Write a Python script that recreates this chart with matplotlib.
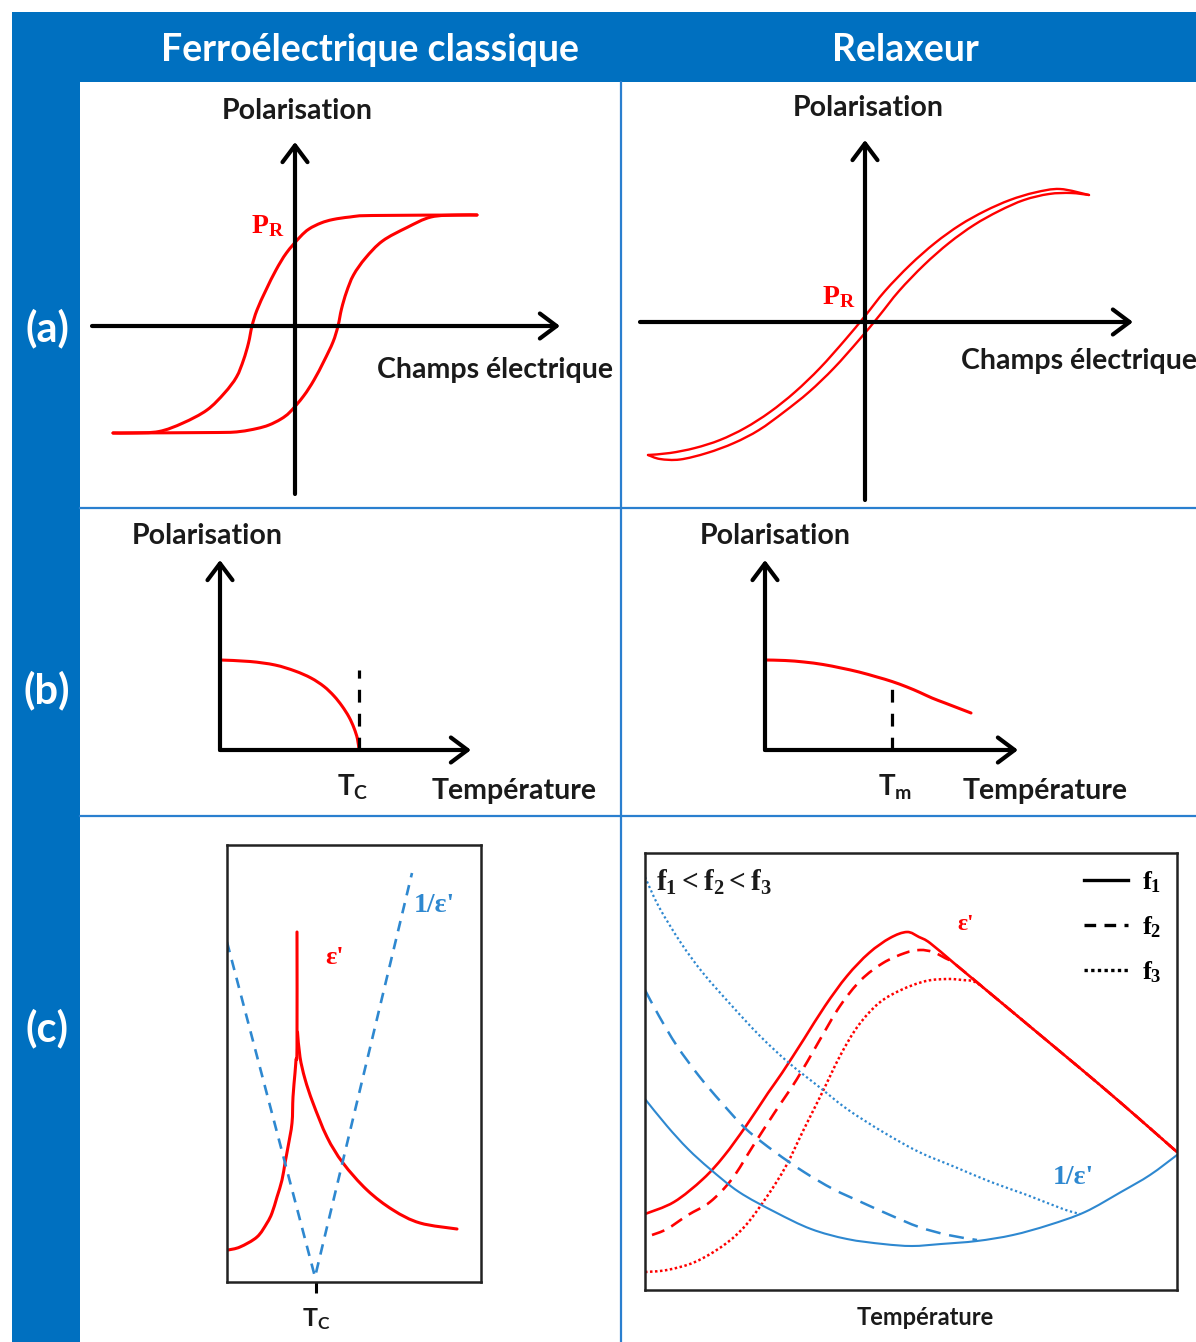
import matplotlib
matplotlib.use("Agg")
import matplotlib.pyplot as plt
from matplotlib.patches import Rectangle, PathPatch
from matplotlib.path import Path
from matplotlib.lines import Line2D

plt.rcParams["mathtext.fontset"] = "custom"
plt.rcParams["mathtext.rm"] = "Liberation Serif:bold"
plt.rcParams["mathtext.bf"] = "Liberation Serif:bold"
plt.rcParams["mathtext.it"] = "Liberation Serif:bold"
plt.rcParams["mathtext.sf"] = "Lato:bold"

# ---------------- data ----------------
# (a) ferroelectric hysteresis: field E vs polarisation P (offsets from origin)
fe_up_E = [182, 77, 55, 38, 26, 14, 5, -8.6, -19, -29, -38, -43, -46.5, -51.5, -58.5, -70.5, -88, -112, -136, -163, -182]
fe_up_P = [111, 110.5, 109, 106.5, 103, 97, 89, 73, 56, 36, 16, 0, -17, -34, -51, -67, -84, -97, -105.5, -107, -107]
fe_dn_E = [-182, -77, -55, -38, -26, -14, -5, 8.6, 19, 29, 38, 43, 46.5, 51.5, 58.5, 70.5, 87.5, 112, 136, 163, 182]
fe_dn_P = [-107, -106.5, -105.5, -102.5, -99, -93, -86, -70, -54, -35, -16, 0, 17, 34, 51, 68, 85, 98.5, 109, 111, 111]
# (a) relaxor slim loop
rl_up_E = [-217, -195, -170, -145, -120, -95, -70, -45, -20, 0, 20, 45, 70, 95, 120, 145, 170, 195, 224]
rl_up_P = [-133, -131, -126, -118, -106, -90, -70, -46, -18, 6, 31, 57, 79, 97, 111, 122, 129.5, 133, 127]
rl_dn_E = [-217, -205, -185, -158, -131, -106, -81, -56, -31, -6, 14, 34, 59, 84, 109, 134, 159, 184, 206, 224]
rl_dn_P = [-133, -137, -137.5, -131, -121, -108, -90, -70, -46, -18, 6, 31, 57, 79, 97, 111, 122, 128, 129, 127]

# (b) polarisation vs temperature
fe_T = [0, 30, 55, 75, 91, 104, 114, 122, 129, 134, 137.5, 139]
fe_Ps = [90, 88.5, 85, 79, 72, 63.5, 54, 44, 33, 22, 11, 0]
fe_Tc = 139
fe_Tc_top = 80
rl_T = [0, 20, 39, 58, 76, 94, 112, 127, 142, 155, 167, 180, 193, 206]
rl_Ps = [90, 89.5, 88, 85.5, 82, 78, 73, 68.5, 63, 57.5, 52, 47, 42, 37]
rl_Tm = 127
rl_Tm_top = 67

# (c) left: permittivity (two branches around Tc) and inverse permittivity
eps_lo_T = [1, 13, 30, 40, 45, 50, 55, 58, 61, 65, 66, 68, 69, 70, 70]
eps_lo = [32, 35, 45, 59, 69, 85, 102, 119, 135, 159, 185, 209, 222, 235, 350]
eps_hi_T = [70.5, 73, 78, 86, 100, 116, 140, 166, 193, 230]
eps_hi = [250, 225, 203, 179, 145, 119, 92, 72, 59, 53]
inv_T = [0, 88, 185]
inv_val = [340, 5, 409]
Tc_c = 89

# (c) right: relaxor, three frequencies f1 < f2 < f3
f1_T = [0, 29, 58, 79, 101, 123, 137, 159, 180, 202, 224, 245, 262, 274, 285, 310, 346, 382, 418, 455, 491, 532]
f1_eps = [76, 88, 111, 134, 164, 197, 217, 251, 284, 314, 337, 352, 358, 353, 347, 326, 296, 266, 236, 205, 174, 138]
f2_T = [7, 22, 43, 65, 87, 108, 130, 152, 173, 195, 216, 238, 260, 275, 288, 300, 310, 346, 382, 418, 455, 491, 532]
f2_eps = [55, 61, 75, 88, 111, 144, 178, 211, 247, 284, 310, 327, 337, 340, 338, 332, 326, 296, 266, 236, 205, 174, 138]
f3_T = [0, 22, 50, 79, 101, 123, 141, 159, 177, 195, 213, 234, 256, 281, 303, 317, 330, 346, 382, 418, 455, 491, 532]
f3_eps = [18, 20, 28, 45, 65, 95, 124, 161, 197, 234, 264, 287, 300, 309, 311, 310, 308, 296, 266, 236, 205, 174, 138]
f1_Ti = [0, 22, 43, 65, 94, 130, 166, 202, 238, 267, 296, 332, 368, 404, 440, 476, 505, 532]
f1_inv = [191, 164, 141, 121, 98, 78, 61, 51, 46, 44, 46, 49, 55, 65, 78, 98, 115, 135]
f2_Ti = [0, 14, 32, 54, 76, 101, 130, 159, 188, 216, 245, 274, 303, 332]
f2_inv = [300, 274, 244, 214, 188, 161, 138, 118, 101, 88, 75, 63, 55, 50]
f3_Ti = [0, 14, 36, 58, 87, 115, 144, 173, 202, 238, 274, 310, 346, 382, 418, 435]
f3_inv = [413, 383, 347, 317, 284, 254, 227, 204, 181, 158, 138, 123, 108, 95, 81, 76]

freq_labels = [r"$\mathbf{f_1}$", r"$\mathbf{f_2}$", r"$\mathbf{f_3}$"]

# ---------------- styles ----------------
W, H = 1196, 1342
BLUE = "#0070C0"
SEP = "#2A7FCF"
RED = "#FF0000"
LBLUE = "#2E88D0"
SANS = "Lato"
SERIF = "Liberation Serif"
DARK = "#1a1a1a"

fig = plt.figure(figsize=(W / 100, H / 100), dpi=100)
fig.patch.set_facecolor("white")

bg = fig.add_axes([0, 0, 1, 1])
bg.set_xlim(0, W)
bg.set_ylim(H, 0)
bg.axis("off")
bg.add_patch(Rectangle((12, 12), W - 12, 70, color=BLUE, lw=0))
bg.add_patch(Rectangle((12, 12), 68, H - 12, color=BLUE, lw=0))
bg.plot([621, 621], [82, H], color=SEP, lw=1.6)
bg.plot([80, W], [508, 508], color=SEP, lw=1.6)
bg.plot([80, W], [816, 816], color=SEP, lw=1.6)

hdr = dict(color="white", fontsize=27, fontweight="bold", family=SANS, ha="center", va="center")
bg.text(370, 50, "Ferroélectrique classique", **hdr)
bg.text(905, 50, "Relaxeur", **hdr)
row = dict(color="white", fontsize=30, fontweight="bold", family=SANS, ha="center", va="center")
bg.text(47, 328, "(a)", **row)
bg.text(47, 690, "(b)", **row)
bg.text(47, 1028, "(c)", **row)


def cell_ax(x0, y0, x1, y1, ox, oy):
    ax = fig.add_axes([x0 / W, 1 - y1 / H, (x1 - x0) / W, (y1 - y0) / H])
    ax.set_xlim(x0 - ox, x1 - ox)
    ax.set_ylim(oy - y1, oy - y0)
    ax.axis("off")
    ax.patch.set_alpha(0)
    return ax


def arrow(ax, start, end):
    ax.annotate("", xy=end, xytext=start, annotation_clip=False,
                arrowprops=dict(arrowstyle="->,head_length=0.6,head_width=0.45",
                                lw=3.0, color="black", shrinkA=0, shrinkB=0,
                                mutation_scale=20))


def smooth(ax, xs, ys, cap="round", **kw):
    """Draw a smoothed (Catmull-Rom / cubic Bezier) line through the data points."""
    pts = list(zip(xs, ys))
    verts = [pts[0]]
    codes = [Path.MOVETO]
    n = len(pts)
    for i in range(n - 1):
        p0 = pts[i - 1] if i > 0 else pts[i]
        p1 = pts[i]
        p2 = pts[i + 1]
        p3 = pts[i + 2] if i + 2 < n else pts[i + 1]
        c1 = (p1[0] + (p2[0] - p0[0]) / 6.0, p1[1] + (p2[1] - p0[1]) / 6.0)
        c2 = (p2[0] - (p3[0] - p1[0]) / 6.0, p2[1] - (p3[1] - p1[1]) / 6.0)
        verts += [c1, c2, p2]
        codes += [Path.CURVE4] * 3
    patch = PathPatch(Path(verts, codes), fill=False, capstyle=cap, joinstyle="round", **kw)
    ax.add_patch(patch)
    return patch


lab = dict(fontsize=20.5, fontweight="bold", family=SANS, color=DARK)

# ---- (a) left
axA1 = cell_ax(82, 84, 620, 506, 295, 326)
arrow(axA1, (-203, 0), (265, 0))
arrow(axA1, (0, -168), (0, 184))
smooth(axA1, fe_up_E, fe_up_P, edgecolor=RED, lw=2.2)
smooth(axA1, fe_dn_E, fe_dn_P, edgecolor=RED, lw=2.2)
bg.text(297, 111, "Polarisation", ha="center", va="center", **lab)
bg.text(377, 370, "Champs électrique", ha="left", va="center", **lab)
bg.text(251, 225, r"$\mathbf{P_R}$", color=RED, fontsize=20, ha="left", va="center")

# ---- (a) right
axA2 = cell_ax(622, 84, 1196, 506, 865, 322)
arrow(axA2, (-225, 0), (268, 0))
arrow(axA2, (0, -178), (0, 182))
smooth(axA2, rl_up_E, rl_up_P, edgecolor=RED, lw=1.7)
smooth(axA2, rl_dn_E, rl_dn_P, edgecolor=RED, lw=1.7)
bg.text(868, 108, "Polarisation", ha="center", va="center", **lab)
bg.text(961, 361, "Champs électrique", ha="left", va="center", **lab)
bg.text(822, 296, r"$\mathbf{P_R}$", color=RED, fontsize=20, ha="left", va="center")

# ---- (b) left
axB1 = cell_ax(82, 510, 620, 814, 220, 750)
arrow(axB1, (0, 0), (251, 0))
arrow(axB1, (0, 0), (0, 190))
smooth(axB1, fe_T, fe_Ps, edgecolor=RED, lw=2.2)
axB1.plot([fe_Tc, fe_Tc], [0, fe_Tc_top], color="black", lw=2.3, ls=(0, (4, 3.5)))
bg.text(207, 536, "Polarisation", ha="center", va="center", **lab)
bg.text(353, 787, r"$\mathsf{T_C}$", ha="center", va="center", fontsize=20, color=DARK)
bg.text(432, 791, "Température", ha="left", va="center", **lab)

# ---- (b) right
axB2 = cell_ax(622, 510, 1196, 814, 765, 750)
arrow(axB2, (0, 0), (253, 0))
arrow(axB2, (0, 0), (0, 190))
smooth(axB2, rl_T, rl_Ps, edgecolor=RED, lw=2.2)
axB2.plot([rl_Tm, rl_Tm], [0, rl_Tm_top], color="black", lw=2.3, ls=(0, (4, 3.5)))
bg.text(775, 536, "Polarisation", ha="center", va="center", **lab)
bg.text(895, 787, r"$\mathsf{T_m}$", ha="center", va="center", fontsize=20, color=DARK)
bg.text(963, 791, "Température", ha="left", va="center", **lab)

# ---- (c) left
x0, y0, x1, y1 = 227, 845, 481, 1282
axC1 = fig.add_axes([x0 / W, 1 - y1 / H, (x1 - x0) / W, (y1 - y0) / H])
axC1.set_xlim(0, x1 - x0)
axC1.set_ylim(0, y1 - y0)
smooth(axC1, eps_lo_T, eps_lo, edgecolor=RED, lw=2.2)
smooth(axC1, eps_hi_T, eps_hi, edgecolor=RED, lw=2.2)
axC1.plot(inv_T, inv_val, color=LBLUE, lw=1.9, ls=(0, (4, 3)))
axC1.set_yticks([])
axC1.set_xticks([Tc_c])
axC1.set_xticklabels([r"$\mathsf{T_C}$"], fontsize=18, color=DARK)
axC1.tick_params(axis="x", length=8, width=2.2, pad=9)
for s in axC1.spines.values():
    s.set_linewidth(1.8)
    s.set_color("#222222")
axC1.text(108, 325, "ε'", color=RED, fontsize=19, fontweight="bold", family=SERIF, ha="center", va="center")
axC1.text(187, 377, "1/ε'", color=LBLUE, fontsize=20, fontweight="bold", family=SERIF, ha="left", va="center")

# ---- (c) right
x0, y0, x1, y1 = 645, 853, 1177, 1290
axC2 = fig.add_axes([x0 / W, 1 - y1 / H, (x1 - x0) / W, (y1 - y0) / H])
axC2.set_xlim(0, x1 - x0)
axC2.set_ylim(0, y1 - y0)
smooth(axC2, f1_T, f1_eps, edgecolor=RED, lw=1.9)
smooth(axC2, f2_T, f2_eps, cap="butt", edgecolor=RED, lw=1.9, ls=(0, (5, 3)))
smooth(axC2, f3_T, f3_eps, cap="butt", edgecolor=RED, lw=1.8, ls=(0, (1, 1)))
smooth(axC2, f1_Ti, f1_inv, edgecolor=LBLUE, lw=1.5)
smooth(axC2, f2_Ti, f2_inv, cap="butt", edgecolor=LBLUE, lw=1.8, ls=(0, (6, 3.5)))
smooth(axC2, f3_Ti, f3_inv, cap="butt", edgecolor=LBLUE, lw=1.6, ls=(0, (1, 1.2)))
for p in axC2.patches:
    p.set_clip_path(axC2.patch)
axC2.set_xticks([])
axC2.set_yticks([])
for s in axC2.spines.values():
    s.set_linewidth(1.8)
    s.set_color("#222222")
axC2.set_xlabel("Température", fontsize=17, fontweight="bold", family=SANS, color=DARK)
axC2.xaxis.set_label_coords(0.526, -0.064)
axC2.xaxis.label.set_va("center")
axC2.text(11, 408, r"$\mathbf{f_1 < f_2 < f_3}$", fontsize=21, color=DARK, ha="left", va="center")
axC2.text(321, 365, "ε'", color=RED, fontsize=17, fontweight="bold", family=SERIF, ha="center", va="center")
axC2.text(428, 113, "1/ε'", color=LBLUE, fontsize=20, fontweight="bold", family=SERIF, ha="center", va="center")
handles = [Line2D([], [], color="black", lw=2.4),
           Line2D([], [], color="black", lw=2.4, ls=(0, (3.5, 2.5))),
           Line2D([], [], color="black", lw=2.4, ls=(0, (1, 1)))]
axC2.legend(handles, freq_labels, loc="upper right", bbox_to_anchor=(0.972, 0.962),
            frameon=False, fontsize=19, handlelength=1.65, handletextpad=0.55,
            labelspacing=0.72, borderpad=0, borderaxespad=0)

fig.savefig("out.png", dpi=100, facecolor="white")
